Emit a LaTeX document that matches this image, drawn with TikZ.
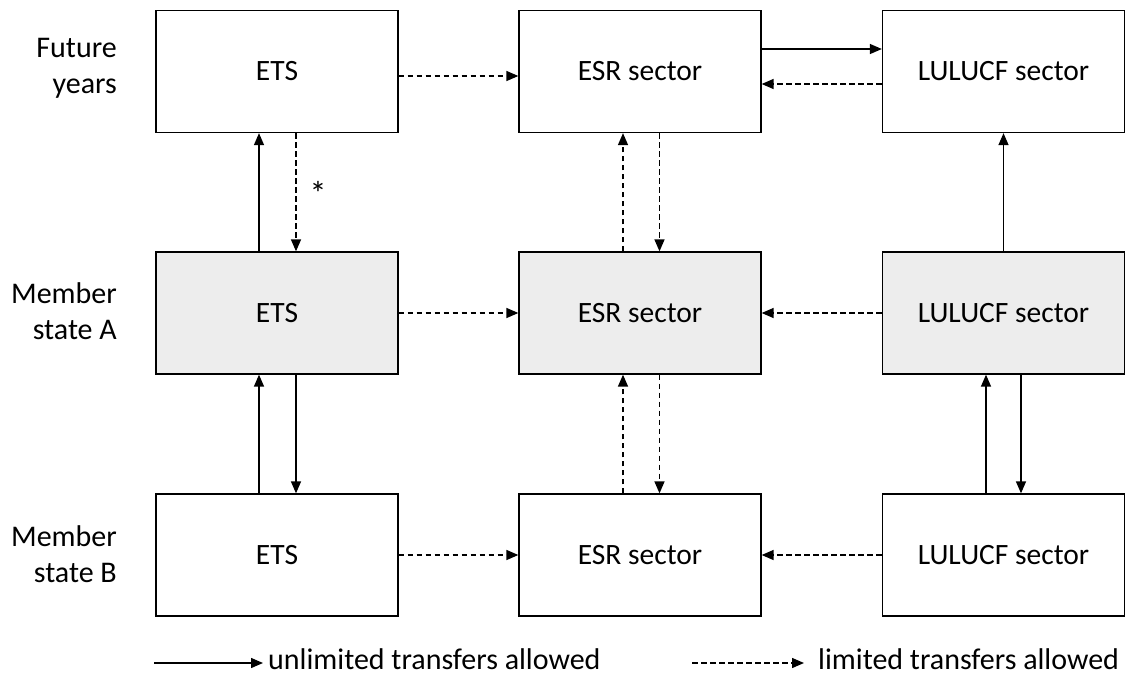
\documentclass[tikz,border=0pt]{standalone}
\usepackage{fontspec}
\setmainfont{Carlito}
\usetikzlibrary{arrows.meta}
\begin{document}
\begin{tikzpicture}[x=1pt,y=-1pt,
  box/.style={draw=black, line width=1.3pt, minimum width=242pt, minimum height=122pt,
    inner sep=0pt, font=\fontsize{29.5}{31}\selectfont},
  shaded/.style={box, fill=black!7},
  plain/.style={box, fill=white},
  lbl/.style={anchor=east, align=right, inner sep=0pt, font=\fontsize{30}{36}\selectfont},
  leg/.style={anchor=base west, inner sep=0pt, font=\fontsize{30}{32}\selectfont},
  conn/.style={line width=1.4pt, -{Triangle[length=12pt,width=10pt]}},
  solidarr/.style={conn},
  dasharr/.style={conn, dash pattern=on 5.5pt off 3.5pt}
]
\useasboundingbox[fill=white] (0,0) rectangle (1128,678);

% row labels
\node[lbl] (lfy) at (117,68) {Future\\years};
\node[lbl] (lma) at (117,311) {Member\\state A};
\node[lbl] (lmb) at (117,554) {Member\\state B};

% boxes
\node[plain] (ets1) at (277,71.5) {ETS};
\node[plain] (esr1) at (640,71.5) {ESR sector};
\node[plain] (lul1) at (1003.5,71.5) {LULUCF sector};

\node[shaded] (ets2) at (277,313) {ETS};
\node[shaded] (esr2) at (640,313) {ESR sector};
\node[shaded] (lul2) at (1003.5,313) {LULUCF sector};

\node[plain] (ets3) at (277,555) {ETS};
\node[plain] (esr3) at (640,555) {ESR sector};
\node[plain] (lul3) at (1003.5,555) {LULUCF sector};

% horizontal connectors
\draw[dasharr] ([yshift=-4.5pt]ets1.east) -- ([yshift=-4.5pt]esr1.west);
\draw[solidarr] ([yshift=22.5pt]esr1.east) -- ([yshift=22.5pt]lul1.west);
\draw[dasharr] ([yshift=-12.5pt]lul1.west) -- ([yshift=-12.5pt]esr1.east);

\draw[dasharr] (ets2.east) -- (esr2.west);
\draw[dasharr] (lul2.west) -- (esr2.east);
\draw[dasharr] (ets3.east) -- (esr3.west);
\draw[dasharr] (lul3.west) -- (esr3.east);

% vertical connectors, future years <-> member state A
\draw[solidarr] ([xshift=-18pt]ets2.north) -- ([xshift=-18pt]ets1.south);
\draw[dasharr] ([xshift=19pt]ets1.south) -- ([xshift=19pt]ets2.north);
\node[inner sep=0pt, font=\fontsize{34}{34}\selectfont] (ast) at (318,193) {*};
\draw[dasharr] ([xshift=-17pt]esr2.north) -- ([xshift=-17pt]esr1.south);
\draw[dasharr] ([xshift=19.5pt]esr1.south) -- ([xshift=19.5pt]esr2.north);
\draw[solidarr] (lul2.north) -- (lul1.south);

% vertical connectors, member state A <-> member state B
\draw[solidarr] ([xshift=-18pt]ets3.north) -- ([xshift=-18pt]ets2.south);
\draw[solidarr] ([xshift=19pt]ets2.south) -- ([xshift=19pt]ets3.north);
\draw[dasharr] ([xshift=-17pt]esr3.north) -- ([xshift=-17pt]esr2.south);
\draw[dasharr] ([xshift=19.5pt]esr2.south) -- ([xshift=19.5pt]esr3.north);
\draw[solidarr] ([xshift=-17.5pt]lul3.north) -- ([xshift=-17.5pt]lul2.south);
\draw[solidarr] ([xshift=17.5pt]lul2.south) -- ([xshift=17.5pt]lul3.north);

% legend
\coordinate (ls1) at (154,663);
\coordinate (le1) at (263,663);
\coordinate (ls2) at (692,663);
\coordinate (le2) at (804,663);
\draw[solidarr] (ls1) -- (le1);
\node[leg] (lt1) at (268,669.5) {unlimited transfers allowed};
\draw[dasharr] (ls2) -- (le2);
\node[leg] (lt2) at (818,669.5) {limited transfers allowed};
\end{tikzpicture}
\end{document}
